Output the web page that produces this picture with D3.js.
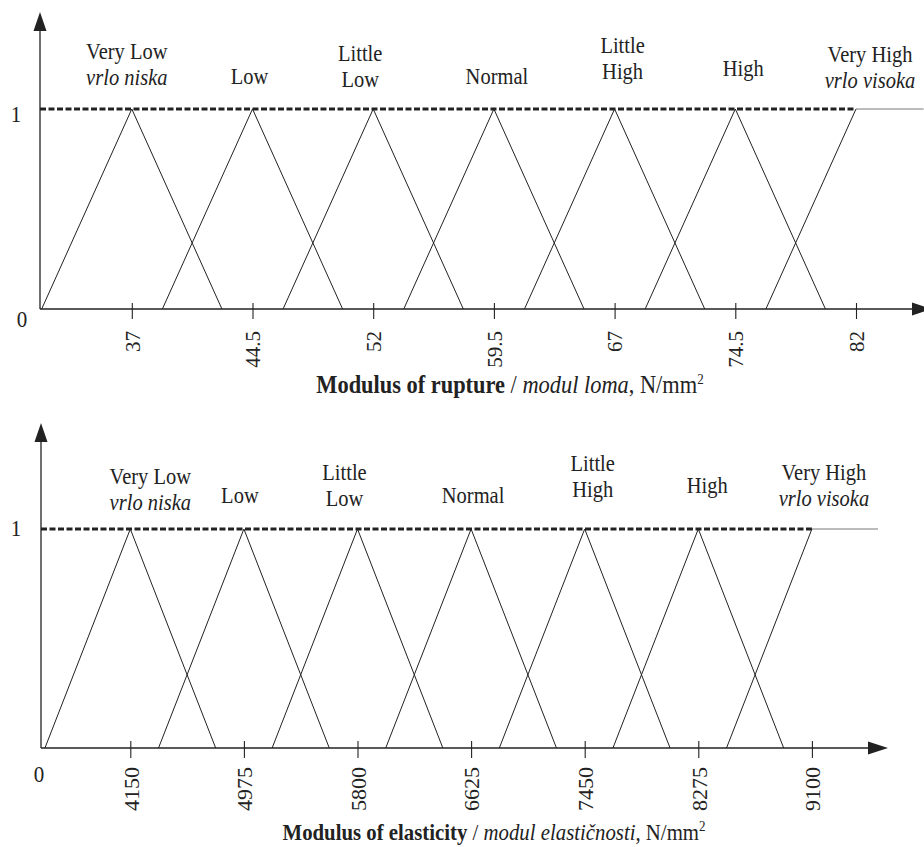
<!DOCTYPE html>
<html>
<head>
<meta charset="utf-8">
<script src="https://cdn.jsdelivr.net/npm/d3@7"></script>
<style>
  html, body { margin: 0; padding: 0; background: #fff; }
  svg { display: block; }
  text { font-family: "Liberation Serif", "Times New Roman", serif; fill: #222; }
</style>
</head>
<body>
<svg id="chart" width="924" height="847"></svg>
<script>
// ---------------- DATA ----------------
// Linguistic terms (English, one or two lines) and Croatian italic sub-labels
const termsEn = [["Very Low"], ["Low"], ["Little", "Low"], ["Normal"], ["Little", "High"], ["High"], ["Very High"]];
const termsHr = ["vrlo niska", null, null, null, null, null, "vrlo visoka"];

// Modulus of rupture (N/mm2): tick values and triangular fuzzy sets [left, peak, right]
const morTicks = [37, 44.5, 52, 59.5, 67, 74.5, 82];
const morTickLabels = ["37", "44.5", "52", "59.5", "67", "74.5", "82"];
const morSets = [
  [31.4, 37, 42.6],
  [38.9, 44.5, 50.1],
  [46.4, 52, 57.6],
  [53.9, 59.5, 65.1],
  [61.4, 67, 72.6],
  [68.9, 74.5, 80.1],
  [76.4, 82, 86.2]   // right shoulder: stays at 1
];

// Modulus of elasticity (N/mm2)
const moeTicks = [4150, 4975, 5800, 6625, 7450, 8275, 9100];
const moeTickLabels = ["4150", "4975", "5800", "6625", "7450", "8275", "9100"];
const moeSets = [
  [3530, 4150, 4770],
  [4355, 4975, 5595],
  [5180, 5800, 6420],
  [6005, 6625, 7245],
  [6830, 7450, 8070],
  [7655, 8275, 8895],
  [8480, 9100, 9580]  // right shoulder: stays at 1
];

// ---------------- LAYOUT ----------------
const panels = [
  {
    ticks: morTicks, tickLabels: morTickLabels, sets: morSets,
    xDomain: [37, 82], xRange: [131.8, 856],
    originX: 40, y0: 309, y1: 109, yTop: 12, axisEnd: 932,
    tickUp: 6, tickDown: 10, tickLabelGap: 22, tickFont: 21,
    zeroLabel: { dx: -18, dy: 18 }, oneLabel: { x: 16, dy: 13 },
    labelDx: [-5, -3, -13, 3, 8, 8, 14],
    labelDy: [-24, -25, -22, -25, -30, -33, -21],
    title: { bold: "Modulus of rupture", italic: "modul loma", y: 393, cx: 510, size: 22.4 }
  },
  {
    ticks: moeTicks, tickLabels: moeTickLabels, sets: moeSets,
    xDomain: [4150, 9100], xRange: [130.3, 811.9],
    originX: 41, y0: 748, y1: 529, yTop: 423, axisEnd: 888,
    tickUp: 7, tickDown: 10, tickLabelGap: 19, tickFont: 22,
    zeroLabel: { dx: -2, dy: 34 }, oneLabel: { x: 16, dy: 7 },
    labelDx: [20, -4, -13, 2, 8, 9, 12],
    labelDy: [-19, -26, -23, -26, -32, -36, -23],
    title: { bold: "Modulus of elasticity", italic: "modul elastičnosti", y: 840, cx: 494, size: 20.8 }
  }
];
const LINE_GAP = 26;
const STRETCH = 1.12;
const INK = "#222";

const svg = d3.select("#chart");

function stretchedText(g, x, y, size) {
  return g.append("text")
    .attr("transform", `translate(${x},${y}) scale(1,${STRETCH})`)
    .attr("font-size", size);
}

panels.forEach(p => {
  const x = d3.scaleLinear().domain(p.xDomain).range(p.xRange);
  const y = d3.scaleLinear().domain([0, 1]).range([p.y0, p.y1]);
  const g = svg.append("g");

  // Triangular membership functions
  const line = d3.line().x(d => x(d[0])).y(d => y(d[1]));
  p.sets.forEach((s, i) => {
    const last = i === p.sets.length - 1;
    const pts = last ? [[s[0], 0], [s[1], 1]] : [[s[0], 0], [s[1], 1], [s[2], 0]];
    g.append("path").attr("d", line(pts))
      .attr("fill", "none").attr("stroke", INK).attr("stroke-width", 1);
  });
  // shoulder continuation (thin)
  const lastSet = p.sets[p.sets.length - 1];
  g.append("line")
    .attr("x1", x(lastSet[1])).attr("x2", x(lastSet[2]))
    .attr("y1", y(1)).attr("y2", y(1))
    .attr("stroke", "#555").attr("stroke-width", 0.8);
  // dashed line at membership 1
  g.append("line")
    .attr("x1", p.originX).attr("x2", x(lastSet[1]))
    .attr("y1", y(1)).attr("y2", y(1))
    .attr("stroke", INK).attr("stroke-width", 2.8)
    .attr("stroke-dasharray", "6,2.5");

  // Axes lines
  g.append("line").attr("x1", p.originX).attr("x2", p.originX)
    .attr("y1", p.y0).attr("y2", p.yTop + 16)
    .attr("stroke", INK).attr("stroke-width", 1.3);
  g.append("path")
    .attr("d", `M${p.originX},${p.yTop} L${p.originX - 6.5},${p.yTop + 19} L${p.originX + 6.5},${p.yTop + 19} Z`)
    .attr("fill", INK);
  g.append("line").attr("x1", p.originX).attr("x2", p.axisEnd - 15)
    .attr("y1", p.y0).attr("y2", p.y0)
    .attr("stroke", INK).attr("stroke-width", 1.3);
  g.append("path")
    .attr("d", `M${p.axisEnd},${p.y0} L${p.axisEnd - 20},${p.y0 - 6.5} L${p.axisEnd - 20},${p.y0 + 6.5} Z`)
    .attr("fill", INK);

  // Ticks via d3 axis
  const axis = d3.axisBottom(x).tickValues(p.ticks)
    .tickFormat((d, i) => p.tickLabels[i]).tickSize(p.tickDown);
  const ax = g.append("g").attr("transform", `translate(0,${p.y0})`).call(axis);
  ax.select(".domain").remove();
  ax.selectAll(".tick line").attr("y1", -p.tickUp).attr("stroke", INK).attr("stroke-width", 1.1);
  ax.selectAll(".tick text")
    .attr("transform", "rotate(-90)")
    .attr("x", -p.tickLabelGap).attr("y", 0).attr("dy", "0.35em")
    .attr("text-anchor", "end")
    .attr("font-size", p.tickFont)
    .attr("font-family", "'Liberation Serif', 'Times New Roman', serif")
    .attr("fill", INK);

  // 0 and 1 labels
  stretchedText(g, p.originX + p.zeroLabel.dx, p.y0 + p.zeroLabel.dy, 21)
    .attr("text-anchor", "middle").text("0");
  stretchedText(g, p.oneLabel.x, y(1) + p.oneLabel.dy, 21)
    .attr("text-anchor", "middle").text("1");

  // Term labels
  p.sets.forEach((s, i) => {
    const cx = x(s[1]) + p.labelDx[i];
    const lines = termsEn[i].map(t => ({ t, italic: false }));
    if (termsHr[i]) lines.push({ t: termsHr[i], italic: true });
    const base = y(1) + p.labelDy[i];
    lines.forEach((ln, k) => {
      const ly = base - (lines.length - 1 - k) * LINE_GAP;
      stretchedText(g, cx, ly, 20.5)
        .attr("text-anchor", "middle")
        .attr("font-style", ln.italic ? "italic" : "normal")
        .text(ln.t);
    });
  });

  // Axis title
  const t = stretchedText(g, p.title.cx, p.title.y, p.title.size).attr("text-anchor", "middle");
  t.append("tspan").attr("font-weight", "bold").text(p.title.bold);
  t.append("tspan").text(" / ");
  t.append("tspan").attr("font-style", "italic").text(p.title.italic);
  t.append("tspan").text(", N/mm");
  t.append("tspan").attr("font-size", 13).attr("dy", -8).text("2");
});
</script>
</body>
</html>
